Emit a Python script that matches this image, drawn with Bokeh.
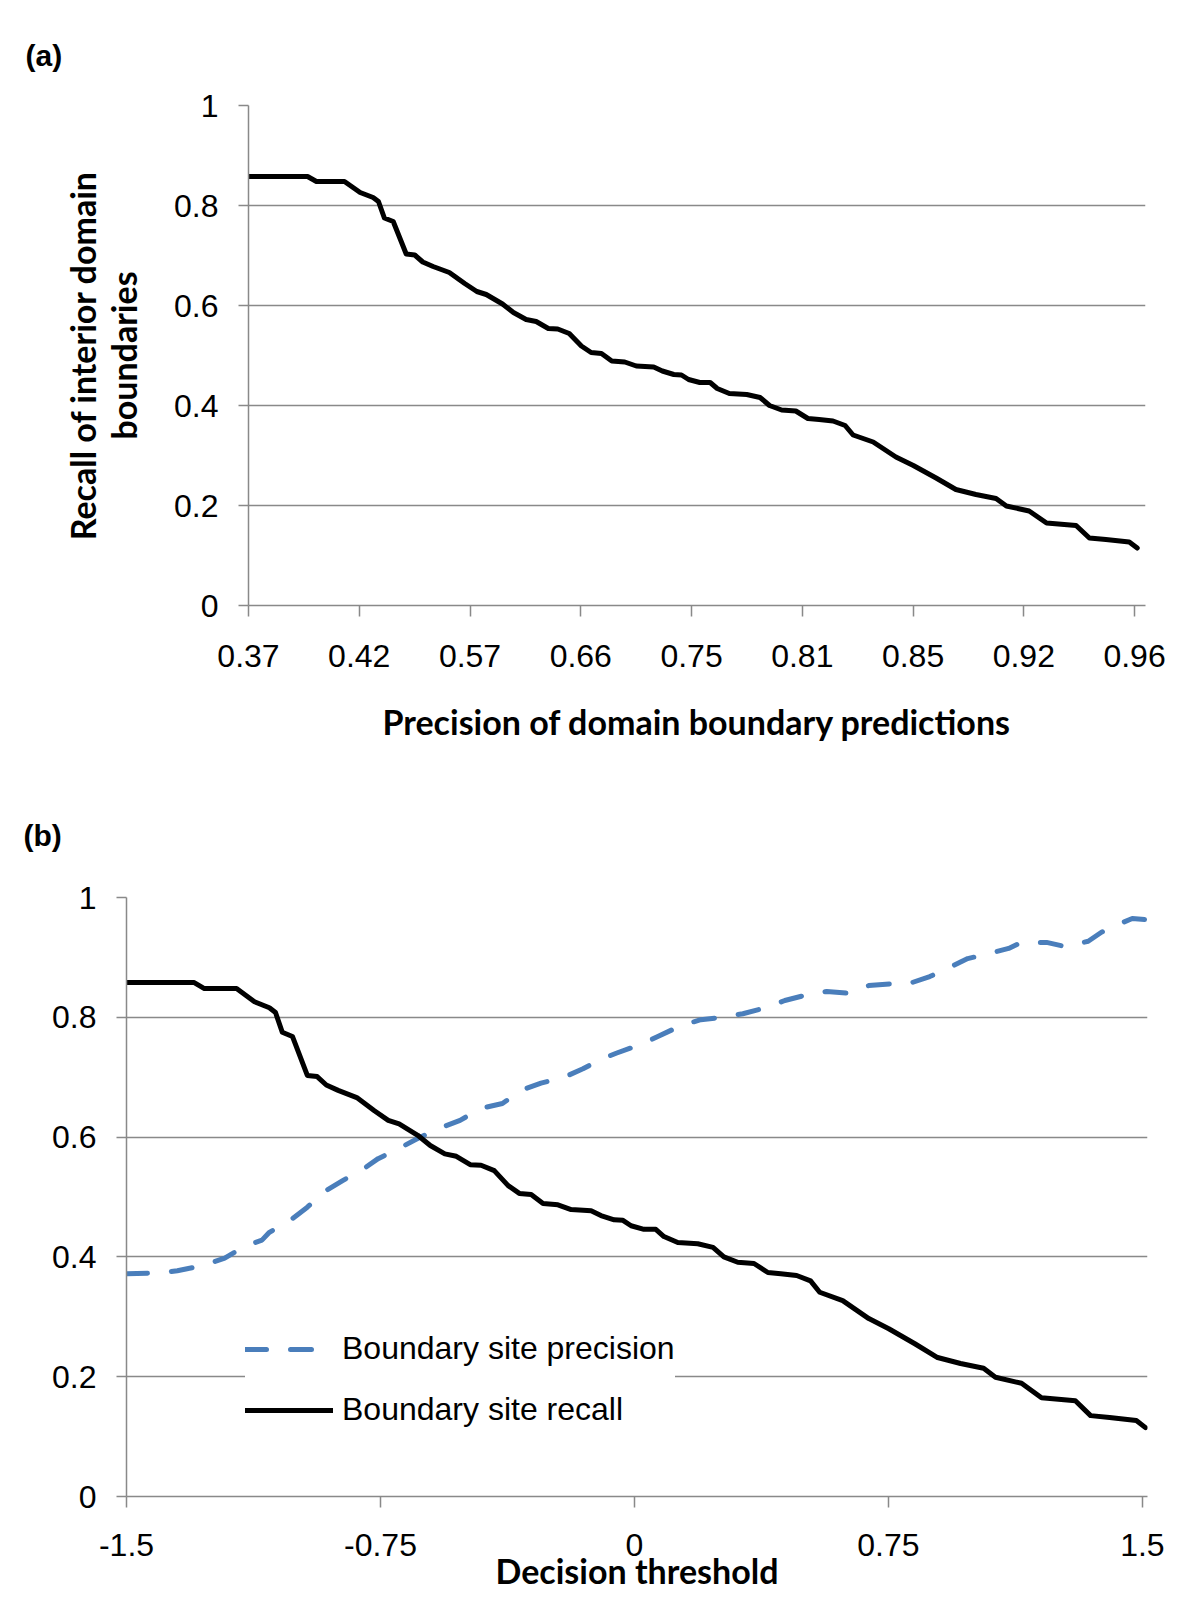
from bokeh.plotting import figure
from bokeh.models import (Range1d, FixedTicker, Legend, LegendItem, ColumnDataSource)
from bokeh.embed import file_html
from bokeh.resources import INLINE

# ---------------- data ----------------
threshold_recall = [-1.50, -1.30, -1.27, -1.175, -1.122, -1.078, -1.06, -1.04, -1.01,
                    -0.966, -0.937, -0.91, -0.875, -0.82, -0.768, -0.727, -0.695, -0.64,
                    -0.603, -0.56, -0.526, -0.485, -0.453, -0.414, -0.373, -0.34, -0.305,
                    -0.27, -0.226, -0.187, -0.128, -0.099, -0.06, -0.034, -0.01, 0.028,
                    0.063, 0.087, 0.128, 0.187, 0.232, 0.264, 0.305, 0.353, 0.394, 0.432,
                    0.479, 0.52, 0.547, 0.615, 0.692, 0.751, 0.828, 0.895, 0.963, 1.031,
                    1.066, 1.143, 1.202, 1.302, 1.347, 1.403, 1.482, 1.509]
recall = [0.858, 0.858, 0.848, 0.848, 0.826, 0.816, 0.808, 0.775, 0.768,
          0.703, 0.701, 0.687, 0.678, 0.666, 0.644, 0.628, 0.622, 0.603,
          0.586, 0.572, 0.568, 0.554, 0.553, 0.544, 0.519, 0.506, 0.504,
          0.489, 0.487, 0.479, 0.477, 0.469, 0.462, 0.461, 0.452, 0.446,
          0.446, 0.434, 0.424, 0.422, 0.416, 0.400, 0.391, 0.389, 0.374, 0.372,
          0.369, 0.360, 0.341, 0.327, 0.297, 0.280, 0.255, 0.232, 0.222, 0.214,
          0.199, 0.189, 0.165, 0.160, 0.135, 0.132, 0.127, 0.115]

threshold_precision = [-1.50, -1.40, -1.35, -1.27, -1.21, -1.15, -1.10, -1.078, -1.01,
                       -0.966, -0.91, -0.863, -0.795, -0.757, -0.689, -0.639, -0.571,
                       -0.515, -0.453, -0.39, -0.335, -0.276, -0.208, -0.152, -0.099,
                       -0.054, 0.025, 0.069, 0.137, 0.196, 0.261, 0.32, 0.388, 0.444,
                       0.512, 0.568, 0.636, 0.692, 0.76, 0.804, 0.872, 0.922, 0.984,
                       1.037, 1.105, 1.143, 1.217, 1.273, 1.34, 1.379, 1.441, 1.47, 1.509]
precision = [0.372, 0.373, 0.377, 0.386, 0.398, 0.418, 0.428, 0.441, 0.464,
             0.483, 0.511, 0.527, 0.549, 0.564, 0.583, 0.598, 0.616,
             0.628, 0.648, 0.656, 0.678, 0.690, 0.700, 0.714, 0.730,
             0.740, 0.756, 0.768, 0.786, 0.796, 0.800, 0.806, 0.816, 0.828,
             0.838, 0.843, 0.840, 0.853, 0.856, 0.855, 0.868, 0.881, 0.898,
             0.905, 0.915, 0.925, 0.925, 0.918, 0.927, 0.942, 0.958, 0.965, 0.963]

a_tick_positions = [-1.5, -1.125, -0.75, -0.375, 0.0, 0.375, 0.75, 1.125, 1.5]
a_tick_labels = ["0.37", "0.42", "0.57", "0.66", "0.75", "0.81", "0.85", "0.92", "0.96"]
b_tick_positions = [-1.5, -0.75, 0.0, 0.75, 1.5]
b_tick_labels = ["-1.5", "-0.75", "0", "0.75", "1.5"]
y_tick_positions = [0.0, 0.2, 0.4, 0.6, 0.8, 1.0]
y_tick_labels = ["0", "0.2", "0.4", "0.6", "0.8", "1"]

GRID = "#898989"
BLUE = "#4a7ebb"
TICK_FONT = "Liberation Sans"
TITLE_FONT = "Lato"


def style(p, xticks, xlabels):
    p.background_fill_color = "white"
    p.border_fill_color = "white"
    p.outline_line_color = None
    p.xgrid.grid_line_color = None
    p.ygrid.grid_line_color = GRID
    p.ygrid.grid_line_width = 1.5
    p.xaxis.ticker = FixedTicker(ticks=xticks)
    p.xaxis.major_label_overrides = dict(zip(xticks, xlabels))
    p.yaxis.ticker = FixedTicker(ticks=y_tick_positions)
    p.yaxis.major_label_overrides = dict(zip(y_tick_positions, y_tick_labels))
    for ax in (p.xaxis, p.yaxis):
        ax.axis_line_color = GRID
        ax.axis_line_width = 1.5
        ax.major_tick_line_color = GRID
        ax.major_tick_line_width = 1.5
        ax.major_tick_in = 0
        ax.minor_tick_line_color = None
        ax.major_label_text_font = TICK_FONT
        ax.major_label_text_color = "#000000"
        ax.major_label_text_font_size = "32px"
        ax.axis_label_text_font = TITLE_FONT
        ax.axis_label_text_font_style = "bold"
        ax.axis_label_text_color = "#000000"
        ax.axis_label_text_font_size = "34px"
    p.xaxis.major_tick_out = 11
    p.yaxis.major_tick_out = 10
    p.xaxis.major_label_standoff = 28
    p.yaxis.major_label_standoff = 20
    p.title.text_font = TICK_FONT
    p.title.text_font_size = "30px"
    p.title.text_font_style = "bold"
    p.title.text_color = "#000000"
    p.title.align = "left"


recall_src = ColumnDataSource(data=dict(x=threshold_recall, y=recall))
prec_src = ColumnDataSource(data=dict(x=threshold_precision, y=precision))

# ---------------- panel (a) ----------------
pa = figure(width=1196, height=770, x_range=Range1d(-1.5, 1.537), y_range=Range1d(0, 1),
            output_backend="svg", toolbar_location=None, title="(a)",
            min_border_left=248, min_border_right=51, min_border_top=105, min_border_bottom=165)
style(pa, a_tick_positions, a_tick_labels)
pa.title.offset = -223
pa.title.vertical_align = "top"
pa.title.standoff = 63
pa.line("x", "y", source=recall_src, line_color="black", line_width=5,
        line_join="round", line_cap="round")
pa.yaxis.axis_label = "Recall of interior domain\nboundaries"
pa.yaxis.axis_label_text_line_height = 1.0
pa.yaxis.axis_label_standoff = 27
pa.xaxis.axis_label = "Precision of domain boundary predictions"
pa.xaxis.axis_label_standoff = 31

# ---------------- panel (b) ----------------
pb = figure(width=1196, height=842, x_range=Range1d(-1.5, 1.515), y_range=Range1d(0, 1),
            output_backend="svg", toolbar_location=None, title="(b)",
            min_border_left=126, min_border_right=49, min_border_top=127, min_border_bottom=116)
style(pb, b_tick_positions, b_tick_labels)
pb.xaxis.major_label_standoff = 26
pb.title.offset = -103
pb.title.standoff = 91
r_prec = pb.line("x", "y", source=prec_src, line_color=BLUE, line_width=5,
                 line_dash="21 24", line_cap="round", line_join="round")
r_rec = pb.line("x", "y", source=recall_src, line_color="black", line_width=5,
                line_join="round", line_cap="round")
legend = Legend(items=[LegendItem(label="Boundary site precision", renderers=[r_prec]),
                       LegendItem(label="Boundary site recall", renderers=[r_rec])],
                location=(119, 68), orientation="vertical",
                label_text_font=TICK_FONT, label_text_font_size="32px",
                label_text_color="#000000",
                glyph_width=88, glyph_height=36, label_height=36, label_standoff=9,
                spacing=24, padding=44, border_line_color=None,
                background_fill_color="white", background_fill_alpha=1.0)
pb.add_layout(legend)
pb.xaxis.axis_label = "Decision threshold"
pb.xaxis.axis_label_standoff = -9

open("out.html", "w").write(file_html([pa, pb], INLINE))
